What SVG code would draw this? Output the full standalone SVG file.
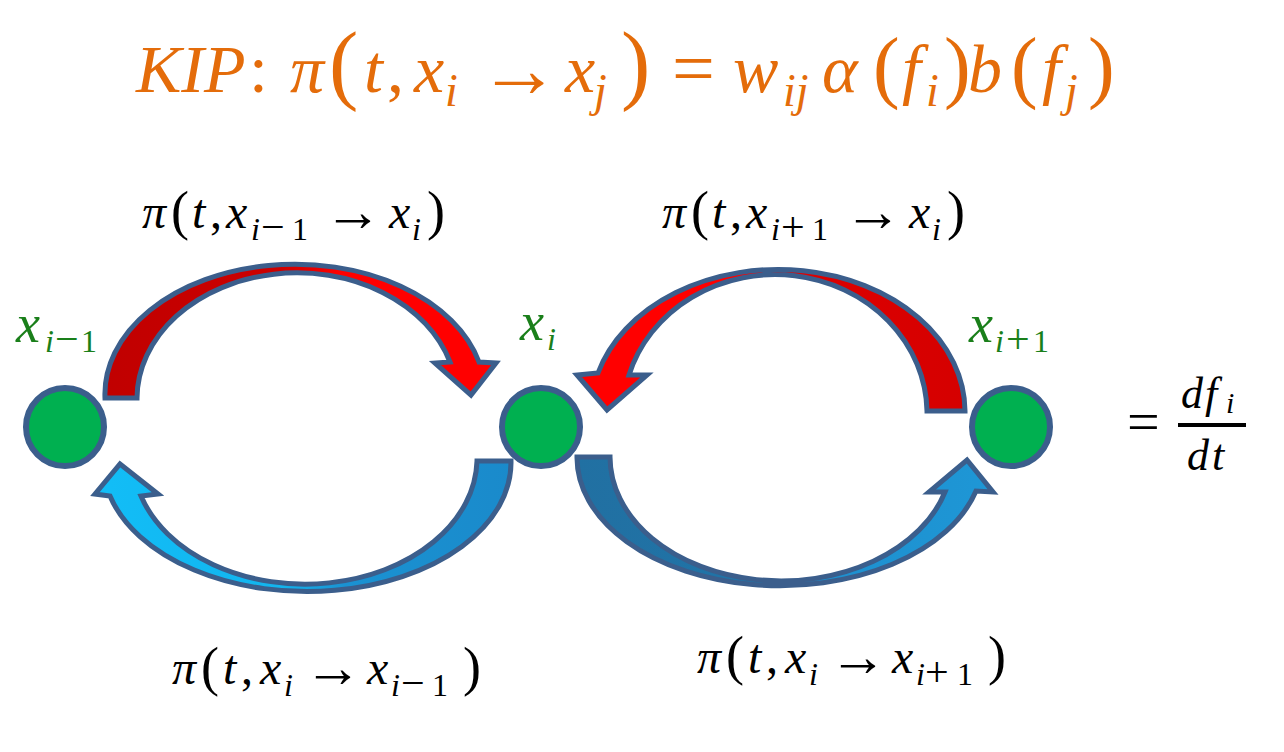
<svg xmlns="http://www.w3.org/2000/svg" width="1284" height="752" viewBox="0 0 1284 752">
<defs>
  <linearGradient id="gA" gradientUnits="userSpaceOnUse" x1="100" y1="0" x2="500" y2="0">
    <stop offset="0" stop-color="#C00000"/><stop offset="0.45" stop-color="#CC0000"/><stop offset="0.6" stop-color="#FF0000"/><stop offset="1" stop-color="#FF0000"/>
  </linearGradient>
  <linearGradient id="gB" gradientUnits="userSpaceOnUse" x1="575" y1="0" x2="970" y2="0">
    <stop offset="0" stop-color="#FF0000"/><stop offset="0.45" stop-color="#FF0000"/><stop offset="0.6" stop-color="#DD0000"/><stop offset="1" stop-color="#D50000"/>
  </linearGradient>
  <linearGradient id="gC" gradientUnits="userSpaceOnUse" x1="90" y1="0" x2="515" y2="0">
    <stop offset="0" stop-color="#12BEF7"/><stop offset="0.45" stop-color="#12B4EE"/><stop offset="0.6" stop-color="#1A92D2"/><stop offset="1" stop-color="#1A8ACB"/>
  </linearGradient>
  <linearGradient id="gD" gradientUnits="userSpaceOnUse" x1="575" y1="0" x2="1000" y2="0">
    <stop offset="0" stop-color="#2170A2"/><stop offset="0.45" stop-color="#2074A8"/><stop offset="0.6" stop-color="#1E90CF"/><stop offset="1" stop-color="#1E97D6"/>
  </linearGradient>
</defs>
<style>
  .arc{stroke:#3B5E8C;stroke-width:5;stroke-linejoin:miter}
  .node circle{fill:#00B050;stroke:#3B5E8C;stroke-width:6}
  .m{font-family:'Liberation Serif',serif;font-style:italic}
  .u{font-style:normal}
  .green{fill:#1A7F1A}
  .blk{fill:#000000}
  .title{fill:#E46C0A}
</style>
<rect width="1284" height="752" fill="#FFFFFF"/>

<g id="title">
  <text class="m title" font-size="68">
    <tspan x="136" y="92">KIP</tspan><tspan class="u" x="249" y="92">:</tspan><tspan x="290" y="92">π</tspan><tspan class="u" x="329" y="93" font-size="88">(</tspan><tspan x="364" y="92">t</tspan><tspan class="u" x="387" y="92">,</tspan><tspan x="414" y="92">x</tspan><tspan x="445" y="106" font-size="46">i</tspan><tspan class="u" x="478" y="97" font-size="82">→</tspan><tspan x="565" y="92">x</tspan><tspan x="594" y="106" font-size="46">j</tspan><tspan class="u" x="621" y="93" font-size="88">)</tspan><tspan class="u" x="672" y="94" font-size="76">=</tspan><tspan x="733" y="92">w</tspan><tspan x="783" y="106" font-size="46">ij</tspan><tspan x="822" y="92">α</tspan><tspan class="u" x="873" y="93" font-size="80">(</tspan><tspan x="902" y="92">f</tspan><tspan x="926" y="106" font-size="46">i</tspan><tspan class="u" x="944" y="93" font-size="80">)</tspan><tspan x="968" y="92">b</tspan><tspan class="u" x="1011" y="93" font-size="80">(</tspan><tspan x="1042" y="92">f</tspan><tspan x="1065" y="106" font-size="46">j</tspan><tspan class="u" x="1088" y="93" font-size="80">)</tspan>
  </text>
</g>

<g id="connectors">
  <path id="arrow-a" class="arc" fill="url(#gA)" d="M 105 398 A 190 130 0 0 1 479 362 L 496 363 L 471 395 L 435 363 L 450 362 A 160 126 0 0 0 137 398 Z"/>
  <path id="arrow-b" class="arc" fill="url(#gB)" d="M 965 411 A 187 142 0 0 0 598 373 L 577 375 L 607 410 L 647 375 L 629 375 A 152 139 0 0 1 927 411 Z"/>
  <path id="arrow-c" class="arc" fill="url(#gC)" d="M 511 461 A 204 129 0 0 1 110 496 L 95 494 L 120 464 L 158 494 L 141 496 A 172 126 0 0 0 477 461 Z"/>
  <path id="arrow-d" class="arc" fill="url(#gD)" d="M 577 457 A 203 128 0 0 0 976 491 L 993 492 L 967 460 L 929 492 L 945 492 A 171 124 0 0 1 610 457 Z"/>
</g>

<g id="edge-labels">
  <text class="m blk" font-size="48">
    <tspan x="142" y="228">π</tspan><tspan class="u" x="171" y="229" font-size="54">(</tspan><tspan x="192" y="228">t</tspan><tspan class="u" x="210" y="228">,</tspan><tspan x="226" y="228">x</tspan><tspan x="251" y="240" font-size="32">i</tspan><tspan class="u" x="261" y="241" font-size="42">−</tspan><tspan class="u" x="292" y="240" font-size="32">1</tspan><tspan class="u" x="324" y="231" font-size="58">→</tspan><tspan x="389" y="228">x</tspan><tspan x="412" y="240" font-size="32">i</tspan><tspan class="u" x="427" y="229" font-size="54">)</tspan>
  </text>
  <text class="m blk" font-size="48">
    <tspan x="662" y="228">π</tspan><tspan class="u" x="691" y="229" font-size="54">(</tspan><tspan x="712" y="228">t</tspan><tspan class="u" x="730" y="228">,</tspan><tspan x="746" y="228">x</tspan><tspan x="771" y="240" font-size="32">i</tspan><tspan class="u" x="781" y="241" font-size="42">+</tspan><tspan class="u" x="812" y="240" font-size="32">1</tspan><tspan class="u" x="844" y="231" font-size="58">→</tspan><tspan x="909" y="228">x</tspan><tspan x="932" y="240" font-size="32">i</tspan><tspan class="u" x="947" y="229" font-size="54">)</tspan>
  </text>
  <text class="m blk" font-size="48">
    <tspan x="172" y="684">π</tspan><tspan class="u" x="201" y="685" font-size="54">(</tspan><tspan x="223" y="684">t</tspan><tspan class="u" x="241" y="684">,</tspan><tspan x="260" y="684">x</tspan><tspan x="284" y="696" font-size="32">i</tspan><tspan class="u" x="304" y="687" font-size="58">→</tspan><tspan x="367" y="684">x</tspan><tspan x="391" y="696" font-size="32">i</tspan><tspan class="u" x="401" y="697" font-size="42">−</tspan><tspan class="u" x="432" y="696" font-size="32">1</tspan><tspan class="u" x="463" y="685" font-size="54">)</tspan>
  </text>
  <text class="m blk" font-size="48">
    <tspan x="697" y="673">π</tspan><tspan class="u" x="726" y="674" font-size="54">(</tspan><tspan x="748" y="673">t</tspan><tspan class="u" x="766" y="673">,</tspan><tspan x="785" y="673">x</tspan><tspan x="809" y="685" font-size="32">i</tspan><tspan class="u" x="829" y="676" font-size="58">→</tspan><tspan x="892" y="673">x</tspan><tspan x="916" y="685" font-size="32">i</tspan><tspan class="u" x="925" y="686" font-size="42">+</tspan><tspan class="u" x="957" y="685" font-size="32">1</tspan><tspan class="u" x="988" y="674" font-size="54">)</tspan>
  </text>
</g>

<g id="node-prev" class="node">
  <circle cx="65" cy="427" r="39"/>
  <text class="m green" font-size="54"><tspan x="16" y="342">x</tspan><tspan x="45" y="352" font-size="32">i</tspan><tspan class="u" x="55" y="353" font-size="42">−</tspan><tspan class="u" x="81" y="352" font-size="32">1</tspan></text>
</g>
<g id="node-i" class="node">
  <circle cx="541" cy="427" r="39"/>
  <text class="m green" font-size="54"><tspan x="520" y="340">x</tspan><tspan x="547" y="350" font-size="32">i</tspan></text>
</g>
<g id="node-next" class="node">
  <circle cx="1011" cy="427" r="39"/>
  <text class="m green" font-size="54"><tspan x="969" y="342">x</tspan><tspan x="995" y="352" font-size="32">i</tspan><tspan class="u" x="1006" y="353" font-size="42">+</tspan><tspan class="u" x="1033" y="352" font-size="32">1</tspan></text>
</g>

<g id="derivative">
  <text class="m blk u" x="1127" y="441" font-size="58">=</text>
  <text class="m blk" font-size="44"><tspan x="1181" y="408">d</tspan><tspan x="1205" y="408">f</tspan><tspan x="1226" y="413" font-size="30">i</tspan></text>
  <rect x="1178" y="423" width="68" height="4" fill="#000000"/>
  <text class="m blk" font-size="44"><tspan x="1187" y="470">d</tspan><tspan x="1212" y="470">t</tspan></text>
</g>
</svg>
